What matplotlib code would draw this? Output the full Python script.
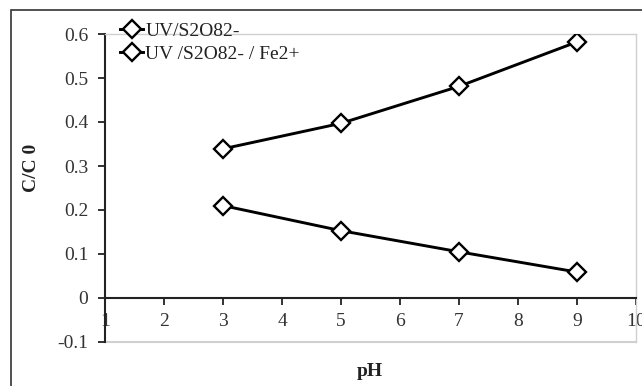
import matplotlib
matplotlib.use("Agg")
import matplotlib.pyplot as plt
from matplotlib.patches import Rectangle

ph = [3, 5, 7, 9]
uv_s2o8 = [0.339, 0.397, 0.481, 0.582]
uv_s2o8_fe = [0.210, 0.153, 0.105, 0.059]
series_labels = ["UV/S2O82-", "UV /S2O82- / Fe2+"]
x_ticks = [1, 2, 3, 4, 5, 6, 7, 8, 9, 10]
y_ticks = [-0.1, 0, 0.1, 0.2, 0.3, 0.4, 0.5, 0.6]
y_tick_labels = ["-0.1", "0", "0.1", "0.2", "0.3", "0.4", "0.5", "0.6"]

plt.rcParams['font.family'] = ['Liberation Serif', 'DejaVu Serif']

W, H = 642, 386
FS = 14
fig = plt.figure(figsize=(W / 100, H / 100), dpi=100)

# outer frame
fig.patches.append(Rectangle((11 / W, -0.1), 1.2, 1 - 10 / H + 0.1, transform=fig.transFigure,
                             fill=False, edgecolor='#333333', linewidth=1.2))

ax = fig.add_axes([105 / W, 1 - 342 / H, (636 - 105) / W, (342 - 34) / H])
ax.set_xlim(1, 10)
ax.set_ylim(-0.1, 0.6)

for vals, lab in [(uv_s2o8, series_labels[0]), (uv_s2o8_fe, series_labels[1])]:
    ax.plot(ph, vals, color='black', lw=2.1, marker='D', markersize=9,
            markerfacecolor='white', markeredgecolor='black', markeredgewidth=1.7,
            label=lab, zorder=3)

for s in ['top', 'right']:
    ax.spines[s].set_color('#d0d0d0')
    ax.spines[s].set_linewidth(1.0)
ax.axhline(-0.1, color='#d0d0d0', lw=1.5, clip_on=False, zorder=0)
ax.spines['bottom'].set_position(('data', 0))
ax.spines['bottom'].set_color('#222222')
ax.spines['bottom'].set_linewidth(1.5)
ax.spines['left'].set_color('#222222')
ax.spines['left'].set_linewidth(1.5)

ax.set_xticks(x_ticks)
ax.set_yticks(y_ticks)
ax.set_yticklabels(y_tick_labels)
ax.tick_params(axis='both', direction='out', length=5, width=1.3, color='#222222',
               labelsize=FS, labelcolor='#333333')
ax.tick_params(axis='x', pad=6)
ax.tick_params(axis='y', pad=7)

fig.text(31 / W, 1 - 168 / H, "C/C 0", rotation=90, fontsize=FS, fontweight='bold',
         ha='center', va='center', color='#222222')
fig.text(370 / W, 1 - 371 / H, "pH", fontsize=FS, fontweight='bold',
         ha='center', va='center', color='#222222')

leg = ax.legend(loc='upper left', bbox_to_anchor=(120 / W, 1 - 22 / H),
                bbox_transform=fig.transFigure, frameon=False, fontsize=FS,
                handlelength=1.2, handletextpad=0.1, borderaxespad=0, labelspacing=0.3,
                borderpad=0)
for t in leg.get_texts():
    t.set_color('#222222')

fig.savefig("out.png", dpi=100)
